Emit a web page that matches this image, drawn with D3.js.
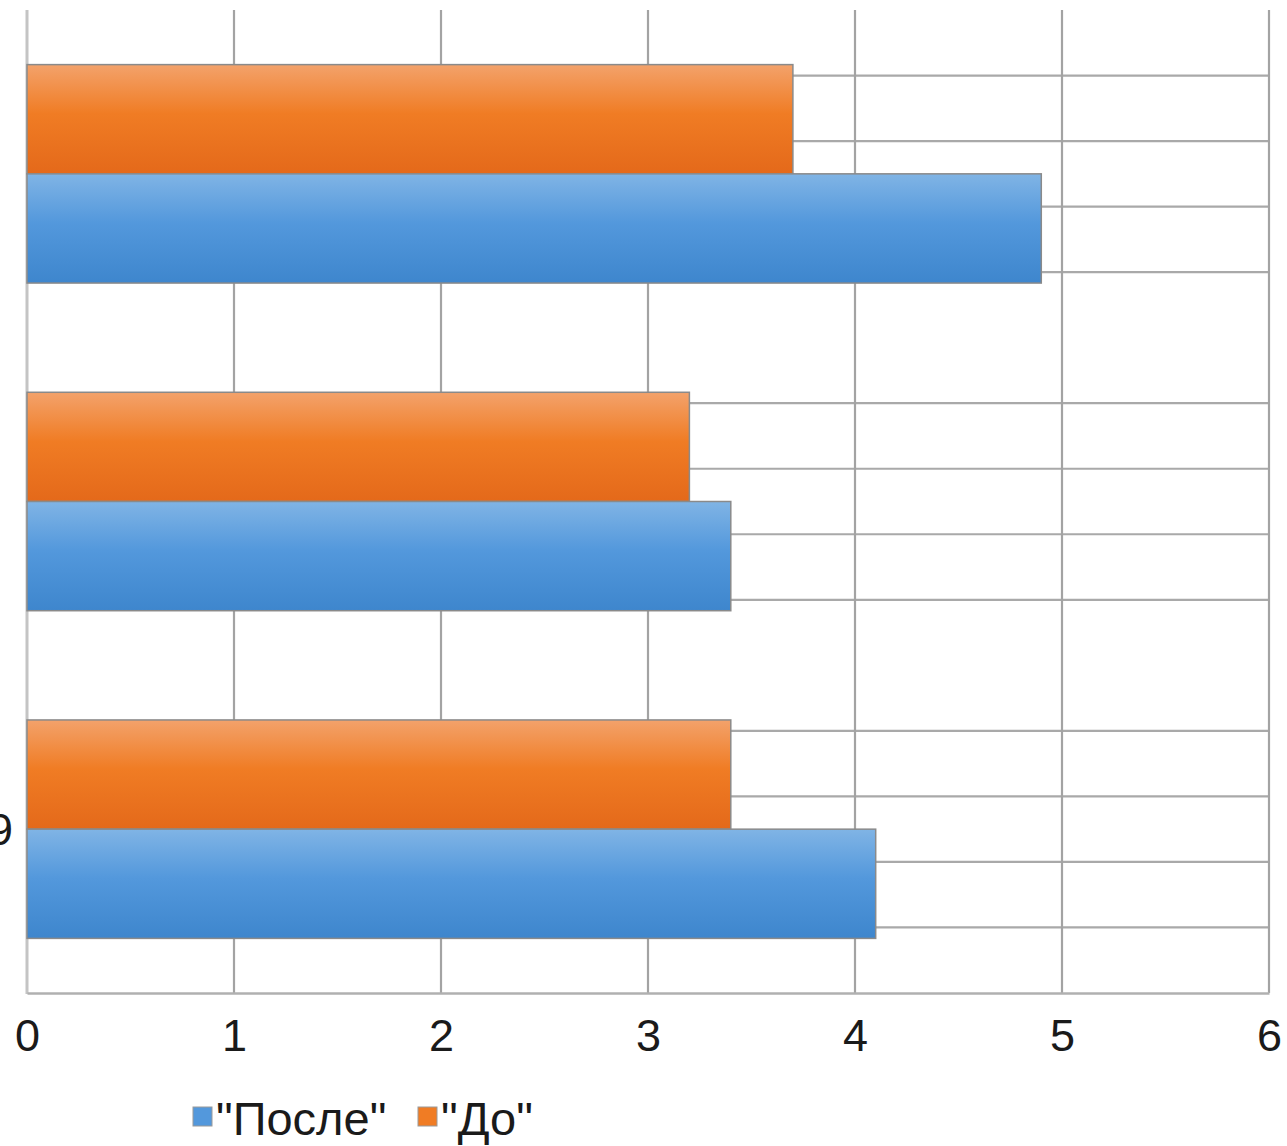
<!DOCTYPE html>
<html>
<head>
<meta charset="utf-8">
<script src="https://cdn.jsdelivr.net/npm/d3@7"></script>
<style>
  html, body { margin: 0; padding: 0; background: #ffffff; }
  svg { display: block; }
  text { font-family: "Liberation Sans", Arial, sans-serif; fill: #1a1a1a; }
</style>
</head>
<body>
<svg id="chart" width="1287" height="1146"></svg>
<script>
// Categories (top to bottom); only the last one carries a visible label
const categories = ["g1", "g2", "g3"];
const categoryLabels = ["", "", "2019"];

// Series shown in each group, top bar first
const seriesNames = ["\"До\"", "\"После\""];
const beforeValues = [3.7, 3.2, 3.4];   // "До"
const afterValues  = [4.9, 3.4, 4.1];   // "После"

// Value axis ticks
const xTicks = [0, 1, 2, 3, 4, 5, 6];

// Legend entries, in their drawn order
const legendNames = ["\"После\"", "\"До\""];

const svg = d3.select("#chart");
const margin = { left: 27, right: 18, top: 10, bottom: 153 };
const W = 1287, H = 1146;
const x0 = margin.left, x1 = W - margin.right;
const y0 = margin.top, y1 = H - margin.bottom;

const x = d3.scaleLinear().domain([0, 6]).range([x0, x1]);
const y = d3.scaleBand().domain(categories).range([y0, y1]);
const inner = d3.scaleBand().domain(seriesNames).range([0, y.step()]).paddingOuter(0.5);

const colors = {
  "\"До\"": ["#f3a26b", "#f07c24", "#e4691a"],
  "\"После\"": ["#80b4e5", "#5398dc", "#3e86cd"]
};

// Vertical gradients for the bars
const defs = svg.append("defs");
Object.entries(colors).forEach(([name, c], i) => {
  const g = defs.append("linearGradient").attr("id", "grad" + i)
    .attr("x1", 0).attr("y1", 0).attr("x2", 0).attr("y2", 1);
  g.append("stop").attr("offset", "0%").attr("stop-color", c[0]);
  g.append("stop").attr("offset", "45%").attr("stop-color", c[1]);
  g.append("stop").attr("offset", "100%").attr("stop-color", c[2]);
});
const gradId = name => "url(#grad" + Object.keys(colors).indexOf(name) + ")";

// Horizontal grid lines inside each category band
const hLines = [];
categories.forEach(c => {
  for (let k = 1; k <= 4; k++) hLines.push(y(c) + y.step() * k / 5);
});
svg.append("g").selectAll("line").data(hLines).join("line")
  .attr("x1", x0).attr("x2", x1)
  .attr("y1", d => d).attr("y2", d => d)
  .attr("stroke", "#a9a9a9").attr("stroke-width", 2.2);

// Vertical grid lines
svg.append("g").selectAll("line").data(xTicks.slice(1)).join("line")
  .attr("x1", d => x(d)).attr("x2", d => x(d))
  .attr("y1", y0).attr("y2", y1)
  .attr("stroke", "#a3a3a3").attr("stroke-width", 2.2);

// Left axis line
svg.append("line")
  .attr("x1", x0).attr("x2", x0).attr("y1", y0).attr("y2", y1 + 1)
  .attr("stroke", "#c4c4c4").attr("stroke-width", 3);

// Bars
const rows = [];
categories.forEach((c, i) => {
  rows.push({ cat: c, series: seriesNames[0], value: beforeValues[i] });
  rows.push({ cat: c, series: seriesNames[1], value: afterValues[i] });
});
svg.append("g").selectAll("rect").data(rows).join("rect")
  .attr("x", x(0))
  .attr("y", d => y(d.cat) + inner(d.series))
  .attr("width", d => x(d.value) - x(0))
  .attr("height", inner.bandwidth())
  .attr("fill", d => gradId(d.series))
  .attr("stroke", "#8a8a8a").attr("stroke-width", 1.5);

// Bottom axis
const xAxis = svg.append("g").attr("transform", `translate(0,${y1})`)
  .call(d3.axisBottom(x).tickValues(xTicks).tickSize(0).tickPadding(26).tickFormat(d3.format("d")));
xAxis.select(".domain").attr("stroke", "#b0b0b0").attr("stroke-width", 2.5);
xAxis.selectAll("text").attr("font-size", 45).style("font-family", "'Liberation Sans', Arial, sans-serif").attr("fill", "#1a1a1a");

// Category labels (right-aligned against the axis)
svg.append("g").selectAll("text").data(categories).join("text")
  .attr("x", 13)
  .attr("y", d => y(d) + y.bandwidth() / 2)
  .attr("dy", "0.35em")
  .attr("text-anchor", "end")
  .attr("font-size", 45)
  .text((d, i) => categoryLabels[i]);

// Legend
const legendPos = [{ sx: 193, tx: 216 }, { sx: 418, tx: 441 }];
const legend = svg.append("g");
legendNames.forEach((name, i) => {
  const p = legendPos[i];
  legend.append("rect")
    .attr("x", p.sx).attr("y", 1107).attr("width", 19).attr("height", 19)
    .attr("fill", colors[name][1]).attr("stroke", "#9a9a9a").attr("stroke-width", 1);
  legend.append("text")
    .attr("x", p.tx).attr("y", 1135)
    .attr("font-size", 47)
    .text(name);
});
</script>
</body>
</html>
